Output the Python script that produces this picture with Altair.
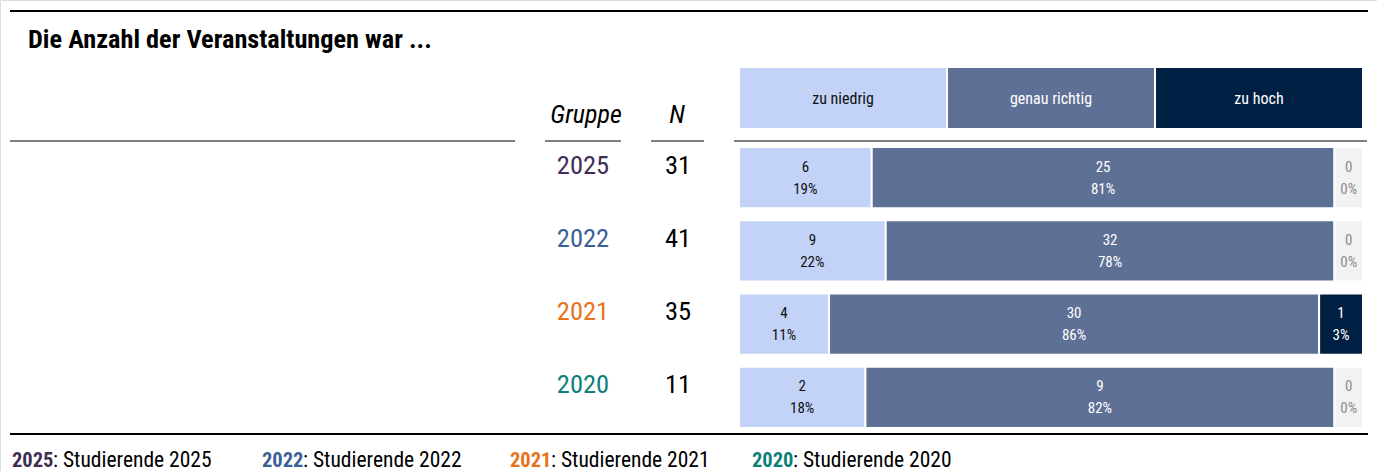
import altair as alt
import pandas as pd

# ---- data ----
groups = ["2025", "2022", "2021", "2020"]
n_values = [31, 41, 35, 11]
categories = ["zu niedrig", "genau richtig", "zu hoch"]
zu_niedrig = [6, 9, 4, 2]
genau_richtig = [25, 32, 30, 9]
zu_hoch = [0, 0, 1, 0]
legend_labels = ["Studierende 2025", "Studierende 2022", "Studierende 2021", "Studierende 2020"]
title_text = "Die Anzahl der Veranstaltungen war ..."

# ---- styles ----
FONT = "Roboto Condensed, Liberation Sans Narrow, DejaVu Sans Condensed, sans-serif"
cat_colors = {"zu niedrig": "#c2d3f7", "genau richtig": "#5f7096", "zu hoch": "#002043", "leer": "#f2f2f2"}
cat_text = {"zu niedrig": "#111111", "genau richtig": "#ffffff", "zu hoch": "#ffffff", "leer": "#8c8c8c"}
group_colors = {"2025": "#3f2d56", "2022": "#3b6095", "2021": "#e8731a", "2020": "#0d7f7a"}
MIN_SHARE = 28.5 / 624.0

rows = []
for gi, g in enumerate(groups):
    counts = [zu_niedrig[gi], genau_richtig[gi], zu_hoch[gi]]
    total = n_values[gi]
    start = 0.0
    for ci, c in enumerate(categories):
        p = counts[ci] / total
        w = MIN_SHARE + p * (1 - 3 * MIN_SHARE)
        disp = c if counts[ci] > 0 else "leer"
        rows.append({
            "Gruppe": g, "cat": disp, "x0": start, "x1": start + w, "xm": start + w / 2,
            "count": str(counts[ci]), "pct": f"{round(p * 100)}%",
            "tc": cat_text[disp],
        })
        start += w
bars = pd.DataFrame(rows)

head = pd.DataFrame({
    "cat": categories,
    "x0": [i / 3 for i in range(3)],
    "x1": [(i + 1) / 3 for i in range(3)],
    "xm": [(i + 0.5) / 3 for i in range(3)],
    "tc": [cat_text[c] for c in categories],
})

grp = pd.DataFrame({"Gruppe": groups, "N": [str(n) for n in n_values],
                    "gc": [group_colors[g] for g in groups]})

xs = alt.Scale(domain=[0, 1], range=[739, 1363], zero=False, nice=False)
ys = alt.Scale(domain=groups, range=[147, 428], paddingInner=0.164, paddingOuter=0)
cs = alt.Scale(domain=list(cat_colors.keys()), range=list(cat_colors.values()))

one = pd.DataFrame({"a": [0]})

def rule(x1, x2, y, color, sw):
    return alt.Chart(one).mark_rule(color=color, strokeWidth=sw).encode(
        x=alt.value(x1), x2=alt.value(x2), y=alt.value(y))

def label(txt, x, y, size, color="#000000", weight="normal", style="normal", align="left", baseline="alphabetic"):
    return alt.Chart(one).mark_text(text=txt, font=FONT, fontSize=size, color=color, fontWeight=weight,
                                    fontStyle=style, align=align, baseline=baseline).encode(
        x=alt.value(x), y=alt.value(y))

layers = []
layers.append(rule(10, 1368, 11, "#000000", 2))
layers.append(rule(10, 1368, 434, "#000000", 2))
layers.append(rule(10, 515, 141, "#555555", 1.5))
layers.append(rule(545, 621, 141, "#555555", 1.5))
layers.append(rule(651, 704, 141, "#555555", 1.5))
layers.append(rule(734, 1367, 141, "#555555", 1.5))

layers.append(label(title_text, 28, 48, 26.3, weight="bold"))
layers.append(label("Gruppe", 586, 123, 26, style="italic", align="center"))
layers.append(label("N", 677, 123, 26, style="italic", align="center"))

# header legend boxes
layers.append(alt.Chart(head).mark_rect(stroke="white", strokeWidth=2).encode(
    x=alt.X("x0:Q", scale=xs, axis=None), x2="x1:Q",
    y=alt.value(67), y2=alt.value(129),
    color=alt.Color("cat:N", scale=cs, legend=None)))
layers.append(alt.Chart(head).mark_text(font=FONT, fontSize=16, baseline="middle").encode(
    x=alt.X("xm:Q", scale=xs, axis=None), y=alt.value(99),
    text="cat:N", color=alt.Color("tc:N", scale=None)))

# bars
layers.append(alt.Chart(bars).mark_rect(stroke="white", strokeWidth=2).encode(
    x=alt.X("x0:Q", scale=xs, axis=None), x2="x1:Q",
    y=alt.Y("Gruppe:N", scale=ys, axis=None),
    color=alt.Color("cat:N", scale=cs, legend=None)))
layers.append(alt.Chart(bars).mark_text(font=FONT, fontSize=15, baseline="middle", dy=-11).encode(
    x=alt.X("xm:Q", scale=xs, axis=None), y=alt.Y("Gruppe:N", scale=ys, axis=None),
    text="count:N", color=alt.Color("tc:N", scale=None)))
layers.append(alt.Chart(bars).mark_text(font=FONT, fontSize=15, baseline="middle", dy=11).encode(
    x=alt.X("xm:Q", scale=xs, axis=None), y=alt.Y("Gruppe:N", scale=ys, axis=None),
    text="pct:N", color=alt.Color("tc:N", scale=None)))

# group / N columns
layers.append(alt.Chart(grp).mark_text(font=FONT, fontSize=26.5, baseline="middle", align="center", dy=-12).encode(
    x=alt.value(583), y=alt.Y("Gruppe:N", scale=ys, axis=None),
    text="Gruppe:N", color=alt.Color("gc:N", scale=None)))
layers.append(alt.Chart(grp).mark_text(font=FONT, fontSize=26.5, baseline="middle", align="center", dy=-12,
                                       color="#000000").encode(
    x=alt.value(678), y=alt.Y("Gruppe:N", scale=ys, axis=None), text="N:N"))

# bottom legend
leg_x = [12, 262, 510, 752]
for i, g in enumerate(groups):
    layers.append(label(g, leg_x[i], 467, 20.5, color=group_colors[g], weight="bold"))
    layers.append(label(": " + legend_labels[i], leg_x[i] + 41, 467, 21.5))

chart = alt.layer(*layers).properties(
    width=1377, height=471, padding=0, autosize=alt.AutoSizeParams(type="none")
).configure_view(stroke=None).configure(background="white")

chart.save("out.html", embed_options={"renderer": "svg", "actions": False})
